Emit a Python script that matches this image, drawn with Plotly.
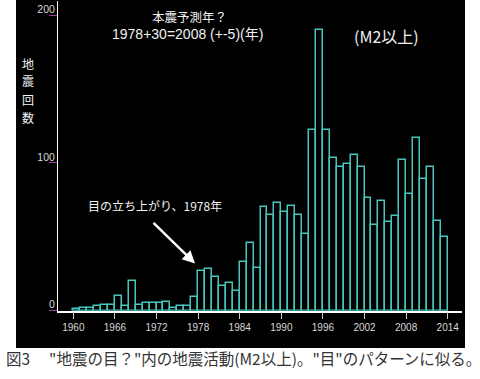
import plotly.graph_objects as go

years = list(range(1960, 2014))
counts = [1, 2, 2, 3, 4, 4, 10, 3, 20, 4,
          5, 5, 5, 6, 2, 3, 3, 9, 27, 28,
          23, 17, 19, 13, 33, 46, 29, 70, 65, 73,
          67, 71, 65, 52, 122, 190, 122, 103, 97, 99,
          105, 97, 76, 58, 74, 60, 64, 102, 79, 117,
          89, 97, 61, 50]
x_tickvals = list(range(1960, 2015, 6))
y_tickvals = [0, 100, 200]

W, H = 480, 379
def px(x):
    return x / W
def py(y):
    return 1 - y / H

CJK = "Noto Sans CJK JP"

fig = go.Figure()
fig.add_trace(go.Bar(
    x=years, y=counts, width=1, offset=0,
    marker=dict(color="black", line=dict(color="#48c6be", width=1.5)),
    hoverinfo="skip",
))

fig.update_layout(
    template="none",
    width=W, height=H, autosize=False,
    margin=dict(l=0, r=0, t=0, b=0, pad=0),
    paper_bgcolor="white",
    plot_bgcolor="black",
    showlegend=False,
    bargap=0,
    shapes=[dict(type="rect", xref="paper", yref="paper",
                 x0=px(16), x1=px(465), y0=py(348), y1=py(0),
                 fillcolor="black", line=dict(width=0), layer="below")],
    xaxis=dict(
        domain=[px(58), px(462)],
        range=[1957.79, 2016.06],
        tickvals=x_tickvals,
        ticktext=[str(v) for v in x_tickvals],
        ticks="outside", ticklen=7, tickcolor="#c8c8c8", tickwidth=1,
        tickfont=dict(family="Liberation Sans", size=10, color="#d8d8d8"),
        showline=True, linecolor="white", linewidth=1.5,
        showgrid=False, zeroline=False, automargin=False,
    ),
    yaxis=dict(
        domain=[py(310.7), py(1)],
        range=[0, 209.5],
        tickvals=y_tickvals,
        ticktext=[str(v) for v in y_tickvals],
        ticks="outside", ticklen=8, tickcolor="#a040a8", tickwidth=1,
        tickfont=dict(family="Liberation Sans", size=10.5, color="#d8d8d8"),
        ticklabelshift=-6, ticklabelstandoff=-8,
        showline=True, linecolor="white", linewidth=1,
        showgrid=False, zeroline=False, automargin=False,
    ),
)

white = "#f2f2f2"
anns = [
    dict(text="本震予測年？", x=px(189), y=py(16.5), size=12.5, fam=CJK),
    dict(text="1978+30=2008 (+-5)(年)", x=px(187.5), y=py(34), size=14,
         fam="Liberation Sans, " + CJK),
    dict(text="(M2以上)", x=px(386.5), y=py(36), size=16, fam=CJK),
    dict(text="地", x=px(27.5), y=py(63), size=12, fam=CJK),
    dict(text="震", x=px(27.5), y=py(80.5), size=12, fam=CJK),
    dict(text="回", x=px(27.5), y=py(99), size=12, fam=CJK),
    dict(text="数", x=px(27.5), y=py(117.5), size=12, fam=CJK),
    dict(text="目の立ち上がり、1978年", x=px(155), y=py(205.5), size=12, fam=CJK),
]
for a in anns:
    fig.add_annotation(text=a["text"], x=a["x"], y=a["y"], xref="paper", yref="paper",
                       xanchor="center", yanchor="middle", showarrow=False,
                       font=dict(family=a["fam"], size=a["size"], color=white))

fig.add_annotation(text="", x=1977.55, y=32, xref="x", yref="y",
                   ax=-43, ay=-42, showarrow=True, arrowcolor="white",
                   arrowwidth=2.5, arrowhead=2, arrowsize=1)

fig.add_annotation(text='図3　 "地震の目？"内の地震活動(M2以上)。"目"のパターンに似る。',
                   x=px(4), y=py(358), xref="paper", yref="paper",
                   xanchor="left", yanchor="middle", showarrow=False,
                   font=dict(family=CJK, size=15.5, color="#333333"))

fig.write_html("out.html", config={"displayModeBar": False},
               post_script="document.body.style.margin='0';")
